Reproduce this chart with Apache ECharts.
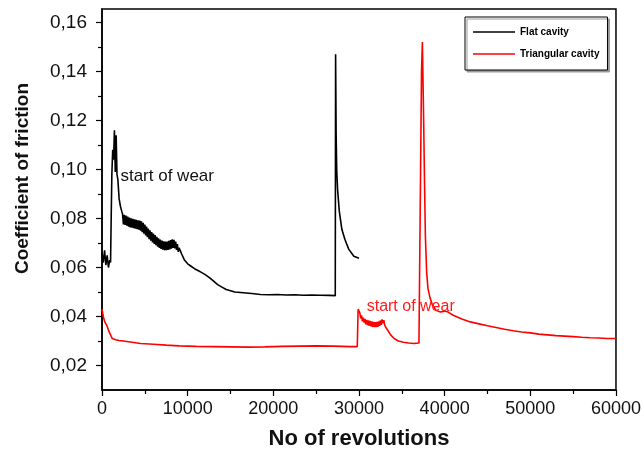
<!DOCTYPE html>
<html><head><meta charset="utf-8">
<script src="https://cdn.jsdelivr.net/npm/echarts@6/dist/echarts.min.js"></script>
<style>html,body{margin:0;padding:0;background:#fff}#c{width:644px;height:455px}</style>
</head><body><div id="c"></div>
<script>
// Data
const seriesNames = ['Flat cavity', 'Triangular cavity'];
const flatRev = [0,150,300,450,600,750,900,1000,1050,1150,1250,1350,1450,1550,1650,1750,1850,2000,2150,2300,
  2400,2500,2600,2700,2800,2900,3000,3100,3200,3300,3400,3500,3600,3700,3800,3900,4000,4100,4200,4300,4400,4500,4600,4700,4800,4900,
  5000,5100,5200,5300,5400,5500,5600,5700,5800,5900,6000,6100,6200,6300,6400,6500,6600,6700,6800,6900,
  7000,7100,7200,7300,7400,7500,7600,7700,7800,7900,8000,8100,8200,8300,8400,8500,8600,8700,8800,8900,9000,
  9300,9600,10000,10400,10800,11200,11600,12000,12500,13000,13500,14000,14500,15000,15500,16500,17500,18500,19500,20500,21500,22500,23500,24500,25500,26500,27230,
  27270,27330,27400,27500,27700,28000,28350,28800,29400,30000];
const flatCof = [0.066,0.062,0.067,0.061,0.065,0.060,0.063,0.062,0.075,0.098,0.108,0.104,0.116,0.099,0.114,0.098,0.096,0.088,0.085,0.083,
  0.0818,0.0776,0.0815,0.0774,0.0812,0.0771,0.0808,0.0767,0.0804,0.0764,0.0801,0.0762,0.0799,0.0760,0.0797,0.0758,0.0795,0.0756,0.0793,0.0754,0.0792,0.0750,0.0788,0.0744,0.0782,0.0738,
  0.0775,0.0731,0.0767,0.0724,0.0759,0.0716,0.0752,0.0709,0.0745,0.0702,0.0738,0.0696,0.0732,0.0691,0.0725,0.0685,0.0719,0.0680,0.0714,0.0676,
  0.0710,0.0673,0.0707,0.0671,0.0706,0.0671,0.0706,0.0672,0.0709,0.0674,0.0712,0.0677,0.0715,0.0680,0.0713,0.0678,0.0706,0.0672,0.0696,0.0664,0.0680,
  0.0655,0.0632,0.0615,0.0605,0.0595,0.0588,0.0580,0.0572,0.0560,0.0545,0.0530,0.0520,0.0510,0.0505,0.0500,0.0497,0.0494,0.0490,0.0489,0.0490,0.0488,0.0489,0.0487,0.0488,0.0487,0.0486,0.0485,
  0.147,0.115,0.100,0.092,0.083,0.0756,0.0715,0.0675,0.0646,0.0638];
const triRev = [0,150,300,450,600,800,1000,1200,1600,2000,2500,3500,4500,6000,7500,9000,11000,13000,15000,17000,19000,21000,23000,25000,27000,29000,29800,
  29900,30100,30200,30300,30400,30500,30600,30700,30800,30900,31000,31100,31200,31300,31400,31500,31600,31700,31800,31900,32000,
  32100,32200,32300,32400,32500,32600,32700,32800,32900,33000,33100,33200,33400,33700,34100,34600,35200,35800,36400,37000,37170,
  37300,37400,37550,37650,37750,37900,38050,38300,38600,39000,39500,40000,40400,41000,42000,43000,44000,45000,46000,47000,48000,49000,50000,51000,52000,53000,54000,55000,56000,57000,58000,59000,60000];
const triCof = [0.043,0.040,0.038,0.0385,0.036,0.034,0.0325,0.031,0.0305,0.0302,0.030,0.0295,0.029,0.0287,0.0283,0.028,0.0278,0.0277,0.0276,0.0275,0.0276,0.0278,0.0279,0.0280,0.0279,0.0277,0.0277,
  0.0430,0.0415,0.0392,0.0405,0.0380,0.0395,0.0375,0.0390,0.0368,0.0386,0.0365,0.0384,0.0362,0.0382,0.0360,0.0380,0.0358,0.0378,0.0357,0.0377,0.0357,
  0.0378,0.0358,0.0380,0.0362,0.0384,0.0366,0.0388,0.0372,0.0385,0.0365,0.0370,0.0352,0.0345,0.0325,0.031,0.0300,0.0295,0.0292,0.0290,0.0292,0.0295,
  0.140,0.152,0.120,0.095,0.073,0.058,0.0515,0.0475,0.0445,0.0425,0.0418,0.0422,0.0418,0.0405,0.039,0.0378,0.037,0.0362,0.0355,0.0348,0.0342,0.0337,0.0333,0.0328,0.0325,0.0322,0.032,0.0318,0.0315,0.0313,0.0312,0.031,0.031];
const yMajorTicks = [0.02,0.04,0.06,0.08,0.10,0.12,0.14,0.16];
const yMinorTicks = [0.03,0.05,0.07,0.09,0.11,0.13,0.15];
const annotations = [
  {text: 'start of wear', rev: 2150, cof: 0.0972, color: '#111', size: 17},
  {text: 'start of wear', rev: 30900, cof: 0.0440, color: '#ff1a1a', size: 16}
];

const zip = (a, b) => a.map((v, i) => [v, b[i]]);
const font = 'Liberation Sans, Arial, sans-serif';
const annot = a => ({symbol: 'circle', symbolSize: 0,
  data: [{coord: [a.rev, a.cof], value: a.text}],
  label: {show: true, position: 'right', distance: 0, formatter: a.text,
    fontFamily: font, fontSize: a.size, color: a.color}});
const chart = echarts.init(document.getElementById('c'), null, {renderer: 'canvas'});
chart.setOption({
  animation: false,
  backgroundColor: '#fff',
  grid: {left: 102, right: 28, top: 9, bottom: 65, show: true, borderColor: '#000', borderWidth: 1.5},
  legend: {
    orient: 'vertical', left: 465, top: 17,
    padding: [10, 8, 11, 8], itemGap: 12, itemWidth: 42, itemHeight: 1.5,
    icon: 'rect', backgroundColor: '#fff', borderColor: '#000', borderWidth: 1,
    shadowColor: '#999', shadowOffsetX: 2, shadowOffsetY: 2, shadowBlur: 0,
    textStyle: {fontFamily: font, fontSize: 10, fontWeight: 'bold', color: '#000'},
    data: seriesNames
  },
  xAxis: {
    type: 'value', min: 0, max: 60000, interval: 10000,
    name: 'No of revolutions', nameLocation: 'middle', nameGap: 38,
    nameTextStyle: {fontFamily: font, fontSize: 22, fontWeight: 'bold', color: '#111'},
    axisLine: {onZero: false, lineStyle: {color: '#000', width: 1.5}},
    axisTick: {show: true, inside: false, length: 6, lineStyle: {color: '#000', width: 1.2}},
    minorTick: {show: true, splitNumber: 2, length: 4, lineStyle: {color: '#000', width: 1.2}},
    splitLine: {show: false},
    axisLabel: {fontFamily: font, fontSize: 18, color: '#111', margin: 10, formatter: v => String(v)}
  },
  yAxis: [{
    type: 'value', min: 0.01, max: 0.1655,
    name: 'Coefficient of friction', nameLocation: 'middle', nameGap: 70, nameRotate: 90,
    nameTextStyle: {fontFamily: font, fontSize: 19, fontWeight: 'bold', color: '#111', padding: [0, 0, 0, 42]},
    axisLine: {onZero: false, lineStyle: {color: '#000', width: 1.5}},
    axisTick: {show: true, inside: false, length: 6, customValues: yMajorTicks, lineStyle: {color: '#000', width: 1.2}},
    splitLine: {show: false},
    axisLabel: {fontFamily: font, fontSize: 19, color: '#111', margin: 15, customValues: yMajorTicks,
      formatter: v => v.toFixed(2).replace('.', ',')}
  }, {
    type: 'value', min: 0.01, max: 0.1655, position: 'left',
    axisLine: {show: false},
    axisTick: {show: true, inside: false, length: 4, customValues: yMinorTicks, lineStyle: {color: '#000', width: 1.2}},
    axisLabel: {show: false}, splitLine: {show: false}
  }],
  series: [{
    name: seriesNames[0], type: 'line', showSymbol: false, symbol: 'none',
    color: '#000', lineStyle: {color: '#000', width: 1.6},
    data: zip(flatRev, flatCof), markPoint: annot(annotations[0])
  }, {
    name: seriesNames[1], type: 'line', showSymbol: false, symbol: 'none',
    color: '#ff0000', lineStyle: {color: '#ff0000', width: 1.6},
    data: zip(triRev, triCof), markPoint: annot(annotations[1])
  }]
});
</script></body></html>
